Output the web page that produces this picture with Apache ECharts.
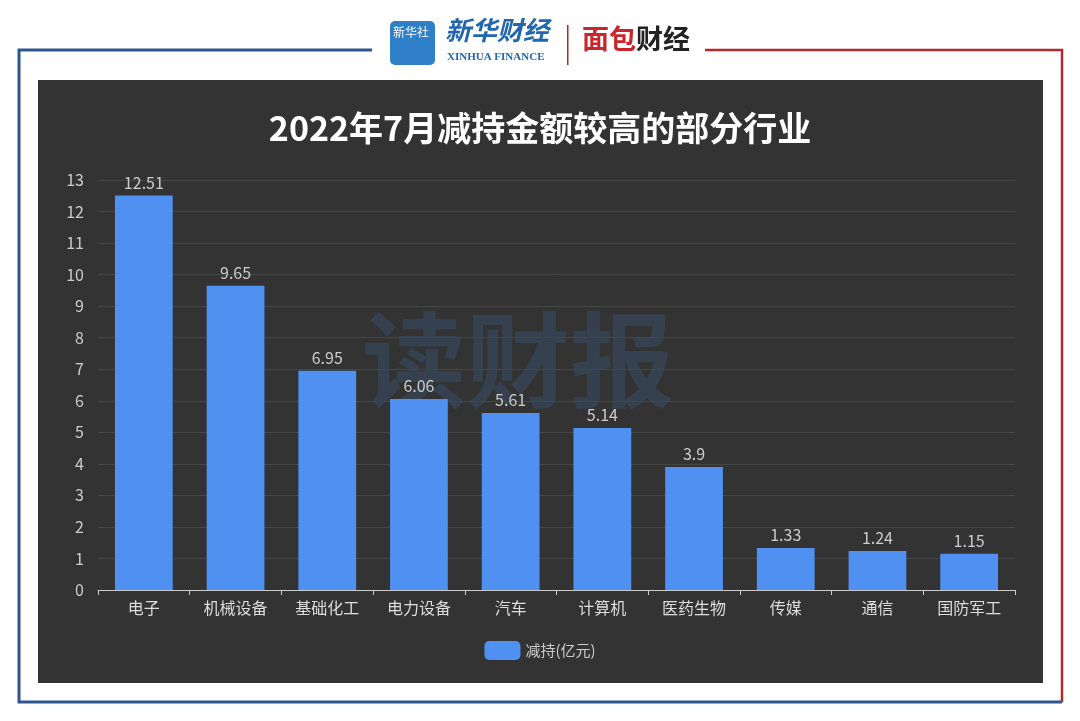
<!DOCTYPE html>
<html><head><meta charset="utf-8">
<script src="https://cdn.jsdelivr.net/npm/echarts@6/dist/echarts.min.js"></script>
<style>html,body{margin:0;padding:0;background:#fff}#c{width:1080px;height:721px}</style>
</head><body><div id="c"></div>
<script>
const categories = ['电子','机械设备','基础化工','电力设备','汽车','计算机','医药生物','传媒','通信','国防军工'];
const values = [12.51, 9.65, 6.95, 6.06, 5.61, 5.14, 3.9, 1.33, 1.24, 1.15];
const seriesName = '减持(亿元)';
const titleText = '2022年7月减持金额较高的部分行业';

const chart = echarts.init(document.getElementById('c'));
const F = '"Noto Sans CJK SC", "Noto Sans", sans-serif';
chart.setOption({
  backgroundColor: '#ffffff',
  animation: false,
  title: {
    text: titleText, left: 'center', top: 106,
    textStyle: { color: '#ffffff', fontSize: 34, fontWeight: 'bold', fontFamily: F }
  },
  graphic: [
    { type: 'rect', z: -10, shape: { x: 38, y: 80, width: 1005, height: 603 }, style: { fill: '#333333' } },
    { type: 'text', z: -5, left: 362, top: 308, style: { text: '读财报', fill: 'rgba(60,85,120,0.42)', font: 'bold 104px "Noto Sans CJK SC"' } },
    // frame
    { type: 'polyline', shape: { points: [[372, 50], [19, 50], [19, 702], [1062, 702]] }, style: { stroke: '#2f5590', lineWidth: 3, fill: null } },
    { type: 'polyline', shape: { points: [[705, 50], [1062, 50], [1062, 702]] }, style: { stroke: '#b3282d', lineWidth: 2.5, fill: null } },
    // logos
    { type: 'rect', shape: { x: 390, y: 21, width: 45, height: 44, r: 5 }, style: { fill: '#2f7fc8' } },
    { type: 'text', left: 393, top: 26, style: { text: '新华社', fill: '#fff', font: '12px "Noto Sans CJK SC"' } },
    { type: 'text', left: 445, top: 17, style: { text: '新华财经', fill: '#2166b0', font: 'italic bold 26px "Noto Sans CJK SC"' } },
    { type: 'text', left: 447, top: 52, style: { text: 'XINHUA FINANCE', fill: '#2166b0', font: 'bold 11px "Liberation Serif"' } },
    { type: 'rect', shape: { x: 567, y: 25, width: 1.5, height: 40 }, style: { fill: '#b3282d' } },
    { type: 'text', left: 582, top: 25, style: { text: '面包', fill: '#c8262c', font: 'bold 27px "Noto Sans CJK SC"' } },
    { type: 'text', left: 636, top: 25, style: { text: '财经', fill: '#222', font: 'bold 27px "Noto Sans CJK SC"' } }
  ],
  grid: { left: 98, right: 65, top: 180, bottom: 131 },
  legend: {
    bottom: 56, left: 'center', itemWidth: 36, itemHeight: 19, itemGap: 6,
    textStyle: { color: '#cccccc', fontSize: 15, fontFamily: F },
    data: [seriesName]
  },
  xAxis: {
    type: 'category', data: categories,
    axisLine: { lineStyle: { color: '#cccccc' } },
    axisTick: { show: true, lineStyle: { color: '#cccccc' } },
    axisLabel: { color: '#dddddd', fontSize: 16, margin: 10, fontFamily: F }
  },
  yAxis: {
    type: 'value', min: 0, max: 13, interval: 1,
    axisLine: { show: false }, axisTick: { show: false },
    axisLabel: { color: '#cccccc', fontSize: 16, margin: 14, fontFamily: F },
    splitLine: { lineStyle: { color: '#464646' } }
  },
  series: [{
    name: seriesName, type: 'bar', data: values, barWidth: '63%',
    itemStyle: { color: '#5090f0' },
    label: { show: true, position: 'top', color: '#cccccc', fontSize: 16, fontFamily: F }
  }]
});
</script></body></html>
